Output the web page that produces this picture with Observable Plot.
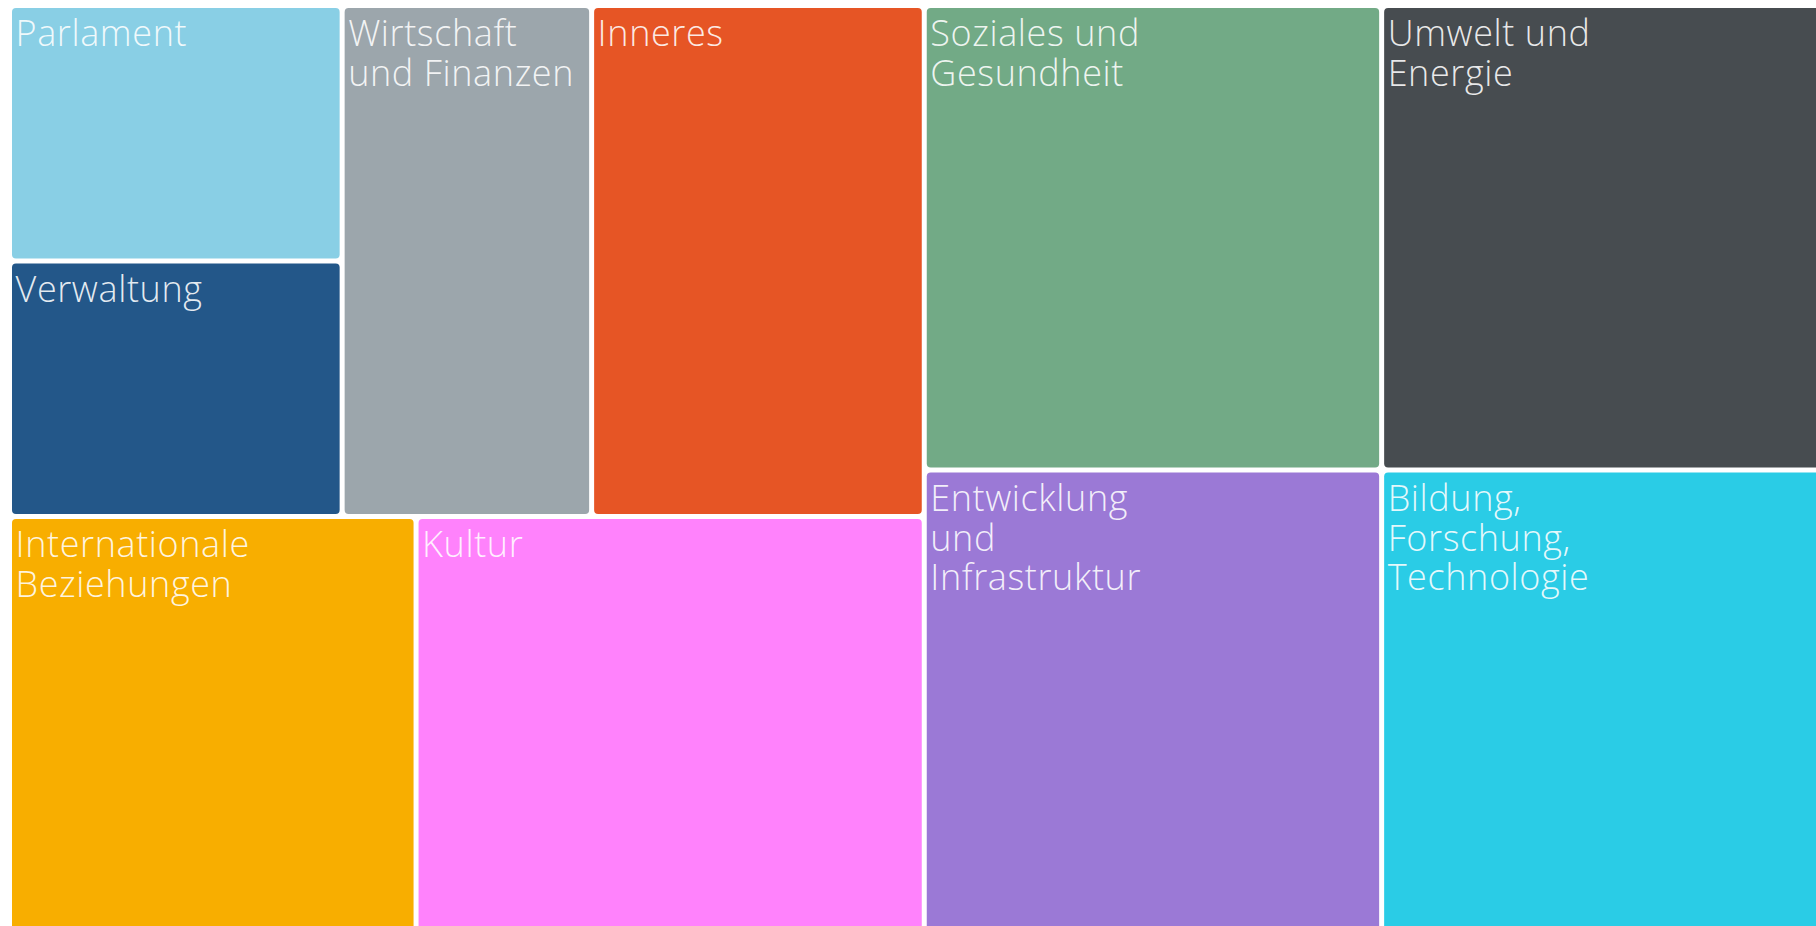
<!DOCTYPE html>
<html><head><meta charset="utf-8">
<script src="https://cdn.jsdelivr.net/npm/d3@7"></script>
<script src="https://cdn.jsdelivr.net/npm/@observablehq/plot@0.6"></script>
<style>
html,body{margin:0;padding:0;overflow:hidden;background:#fff}
svg{max-width:none !important;display:block}
svg text{letter-spacing:0.6px}
</style>
</head><body><div id="chart"></div>
<script>
const names = ["Parlament","Verwaltung","Wirtschaft\nund Finanzen","Inneres","Internationale\nBeziehungen","Kultur","Soziales und\nGesundheit","Entwicklung\nund\nInfrastruktur","Umwelt und\nEnergie","Bildung,\nForschung,\nTechnologie"];
const values = [2,2,3,4,4,5,5,5,6,6];
const colors = ["#89cfe5","#235789","#9ca6ac","#e65525","#f8ae00","#ff82fc","#72aa86","#9b79d6","#474c50","#2acce6"];

const W = 1921, H = 929;
const root = d3.treemap().tile(d3.treemapBinary).size([W, H])(
  d3.hierarchy({children: names.map((n, i) => ({name: n, value: values[i], color: colors[i]}))}).sum(d => d.value || 0)
);
const cells = root.leaves().map(l => ({name: l.data.name, color: l.data.color, x0: l.x0, x1: l.x1, y0: l.y0, y1: l.y1}));

const mL = 9.5, mT = 5.5;
const width = 1940, height = 945;
const chart = Plot.plot({
  width, height,
  marginLeft: mL, marginTop: mT, marginRight: width - mL - W, marginBottom: height - mT - H,
  x: {domain: [0, W], range: [mL, mL + W], axis: null},
  y: {domain: [0, H], range: [mT, mT + H], axis: null},
  color: {type: "identity"},
  marks: [
    Plot.rect(cells, {x1: "x0", x2: "x1", y1: "y0", y2: "y1", fill: "color", inset: 2.5, rx: 4}),
    Plot.text(cells, {x: "x0", y: "y0", text: "name", fill: "white", fillOpacity: 0.88,
      textAnchor: "start", lineAnchor: "top", dx: 5.5, dy: 12.3, fontSize: 36, fontWeight: 300,
      fontFamily: "Open Sans", lineHeight: 1.1})
  ]
});
document.getElementById("chart").appendChild(chart);
</script>
</body></html>
